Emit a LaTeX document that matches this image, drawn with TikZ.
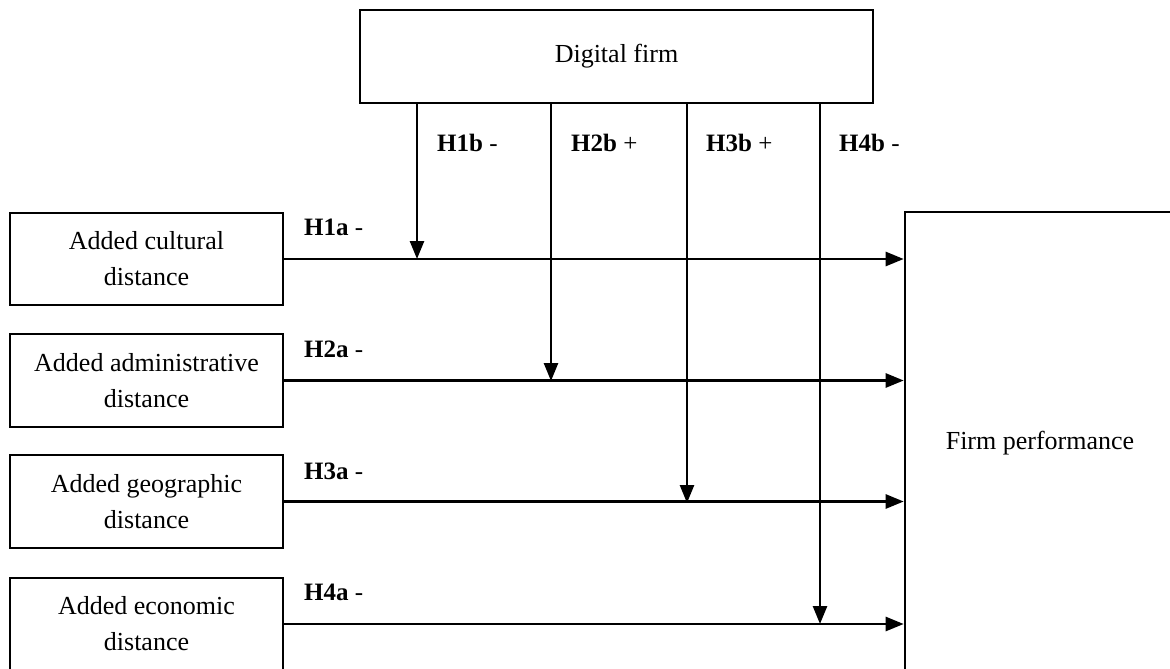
\documentclass[tikz,border=0pt]{standalone}
\usepackage{fontspec}
\setmainfont{Liberation Serif}
\usetikzlibrary{arrows.meta}
\begin{document}
\begin{tikzpicture}[x=1pt,y=-1pt,
  box/.style={draw,line width=2.6pt,rectangle,inner sep=0pt,align=center,font=\fontsize{26}{36}\selectfont},
  conn/.style={line width=2.6pt,-{Triangle[length=18pt,width=14pt]}},
  hlab/.style={anchor=west,inner sep=0pt,font=\fontsize{25}{30}\selectfont}]
\useasboundingbox (0,0) rectangle (1170,669);
\clip (0,0) rectangle (1170,669);
\node[box,minimum width=513pt,minimum height=93pt] (df) at (616.5,56.5) {Digital firm};
\node[box,minimum width=273pt,minimum height=92pt] (b1) at (146.5,259) {Added cultural\\distance};
\node[box,minimum width=273pt,minimum height=93pt] (b2) at (146.5,380.5) {Added administrative\\distance};
\node[box,minimum width=273pt,minimum height=93pt] (b3) at (146.5,501.5) {Added geographic\\distance};
\node[box,minimum width=273pt,minimum height=92pt] (b4) at (146.5,624) {Added economic\\distance};
\node[box,minimum width=270pt,minimum height=462pt] (fp) at (1040,443) {Firm performance};
\coordinate (j1) at (417,259);
\coordinate (j2) at (551,381);
\coordinate (j3) at (687,503);
\coordinate (j4) at (820,624);
\draw[conn] (b1.east) -- (b1.east -| fp.west);
\draw[conn] (b2.east) -- (b2.east -| fp.west);
\draw[conn] (b3.east) -- (b3.east -| fp.west);
\draw[conn] (b4.east) -- (b4.east -| fp.west);
\draw[conn] (df.south -| j1) -- (j1);
\draw[conn] (df.south -| j2) -- (j2);
\draw[conn] (df.south -| j3) -- (j3);
\draw[conn] (df.south -| j4) -- (j4);
\node[hlab] (l1b) at (437,143) {\textbf{H1b} -};
\node[hlab] (l2b) at (571,143) {\textbf{H2b} +};
\node[hlab] (l3b) at (706,143) {\textbf{H3b} +};
\node[hlab] (l4b) at (839,143) {\textbf{H4b} -};
\node[hlab] (l1a) at (304,227) {\textbf{H1a} -};
\node[hlab] (l2a) at (304,349) {\textbf{H2a} -};
\node[hlab] (l3a) at (304,471) {\textbf{H3a} -};
\node[hlab] (l4a) at (304,592) {\textbf{H4a} -};
\end{tikzpicture}
\end{document}
